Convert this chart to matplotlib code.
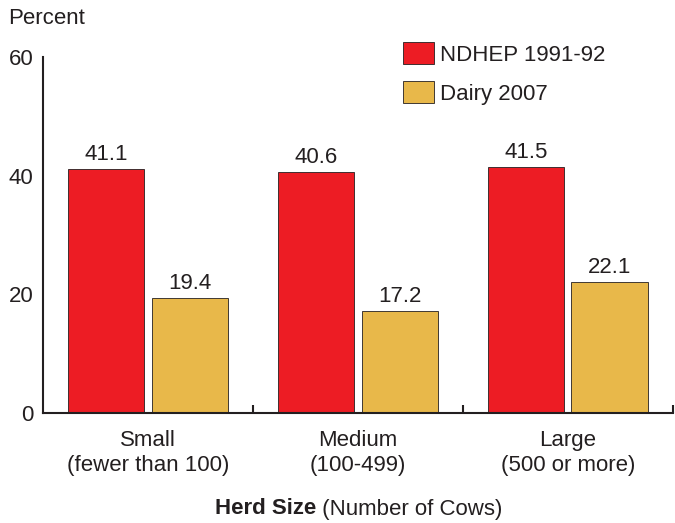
import matplotlib
matplotlib.use('Agg')
import matplotlib.pyplot as plt
import numpy as np

plt.rcParams['font.family'] = ['Liberation Sans', 'DejaVu Sans']
plt.rcParams['font.size'] = 16

categories = ['Small\n(fewer than 100)', 'Medium\n(100-499)', 'Large\n(500 or more)']
series_names = ['NDHEP 1991-92', 'Dairy 2007']
ndhep = [41.1, 40.6, 41.5]
dairy = [19.4, 17.2, 22.1]
yticks = [0, 20, 40, 60]

red = '#ED1C24'
gold = '#E8B84A'
dark = '#231F20'

fig = plt.figure(figsize=(6.75, 5.23), dpi=100)
ax = fig.add_axes([0.0637, 0.2103, 0.933, 0.681])

x = np.arange(len(categories))
w = 0.365
b1 = ax.bar(x - 0.2, ndhep, w, color=red, edgecolor=dark, linewidth=0.6, label=series_names[0])
b2 = ax.bar(x + 0.2, dairy, w, color=gold, edgecolor=dark, linewidth=0.6, label=series_names[1])

for bars, vals in ((b1, ndhep), (b2, dairy)):
    for r, v in zip(bars, vals):
        ax.annotate('%.1f' % v, (r.get_x() + r.get_width() / 2, v),
                    xytext=(0, 3), textcoords='offset points',
                    ha='center', va='bottom', fontsize=16, color=dark)

ax.set_xlim(-0.5, 2.5)
ax.set_ylim(0, 60)
ax.set_yticks(yticks)
ax.set_xticks(x)
ax.set_xticklabels(categories, linespacing=1.25)
ax.set_xticks([0.5, 1.5, 2.5], minor=True)
ax.tick_params(axis='x', which='major', length=0, pad=12.5, colors=dark)
ax.tick_params(axis='x', which='minor', direction='in', length=6, width=1.5, color=dark)
ax.tick_params(axis='y', length=0, pad=7, colors=dark)

ax.spines['right'].set_visible(False)
ax.spines['top'].set_visible(False)
for s in ('left', 'bottom'):
    ax.spines[s].set_linewidth(1.5)
    ax.spines[s].set_color(dark)

ax.legend(loc='upper left', bbox_to_anchor=(0.571, 1.042), frameon=False,
          borderpad=0, borderaxespad=0, handlelength=1.41, handleheight=1.18,
          handletextpad=0.27, labelspacing=0.68, fontsize=16, labelcolor=dark)

fig.text(8 / 675, 1 - 18 / 523, 'Percent', ha='left', va='center', fontsize=16, color=dark)
fig.text(316 / 675, 1 - 509 / 523, 'Herd Size', ha='right', va='center',
         fontsize=16, fontweight='bold', color=dark)
fig.text(316 / 675, 1 - 509 / 523, ' (Number of Cows)', ha='left', va='center',
         fontsize=16, color=dark)

fig.savefig('out.png', dpi=100)
